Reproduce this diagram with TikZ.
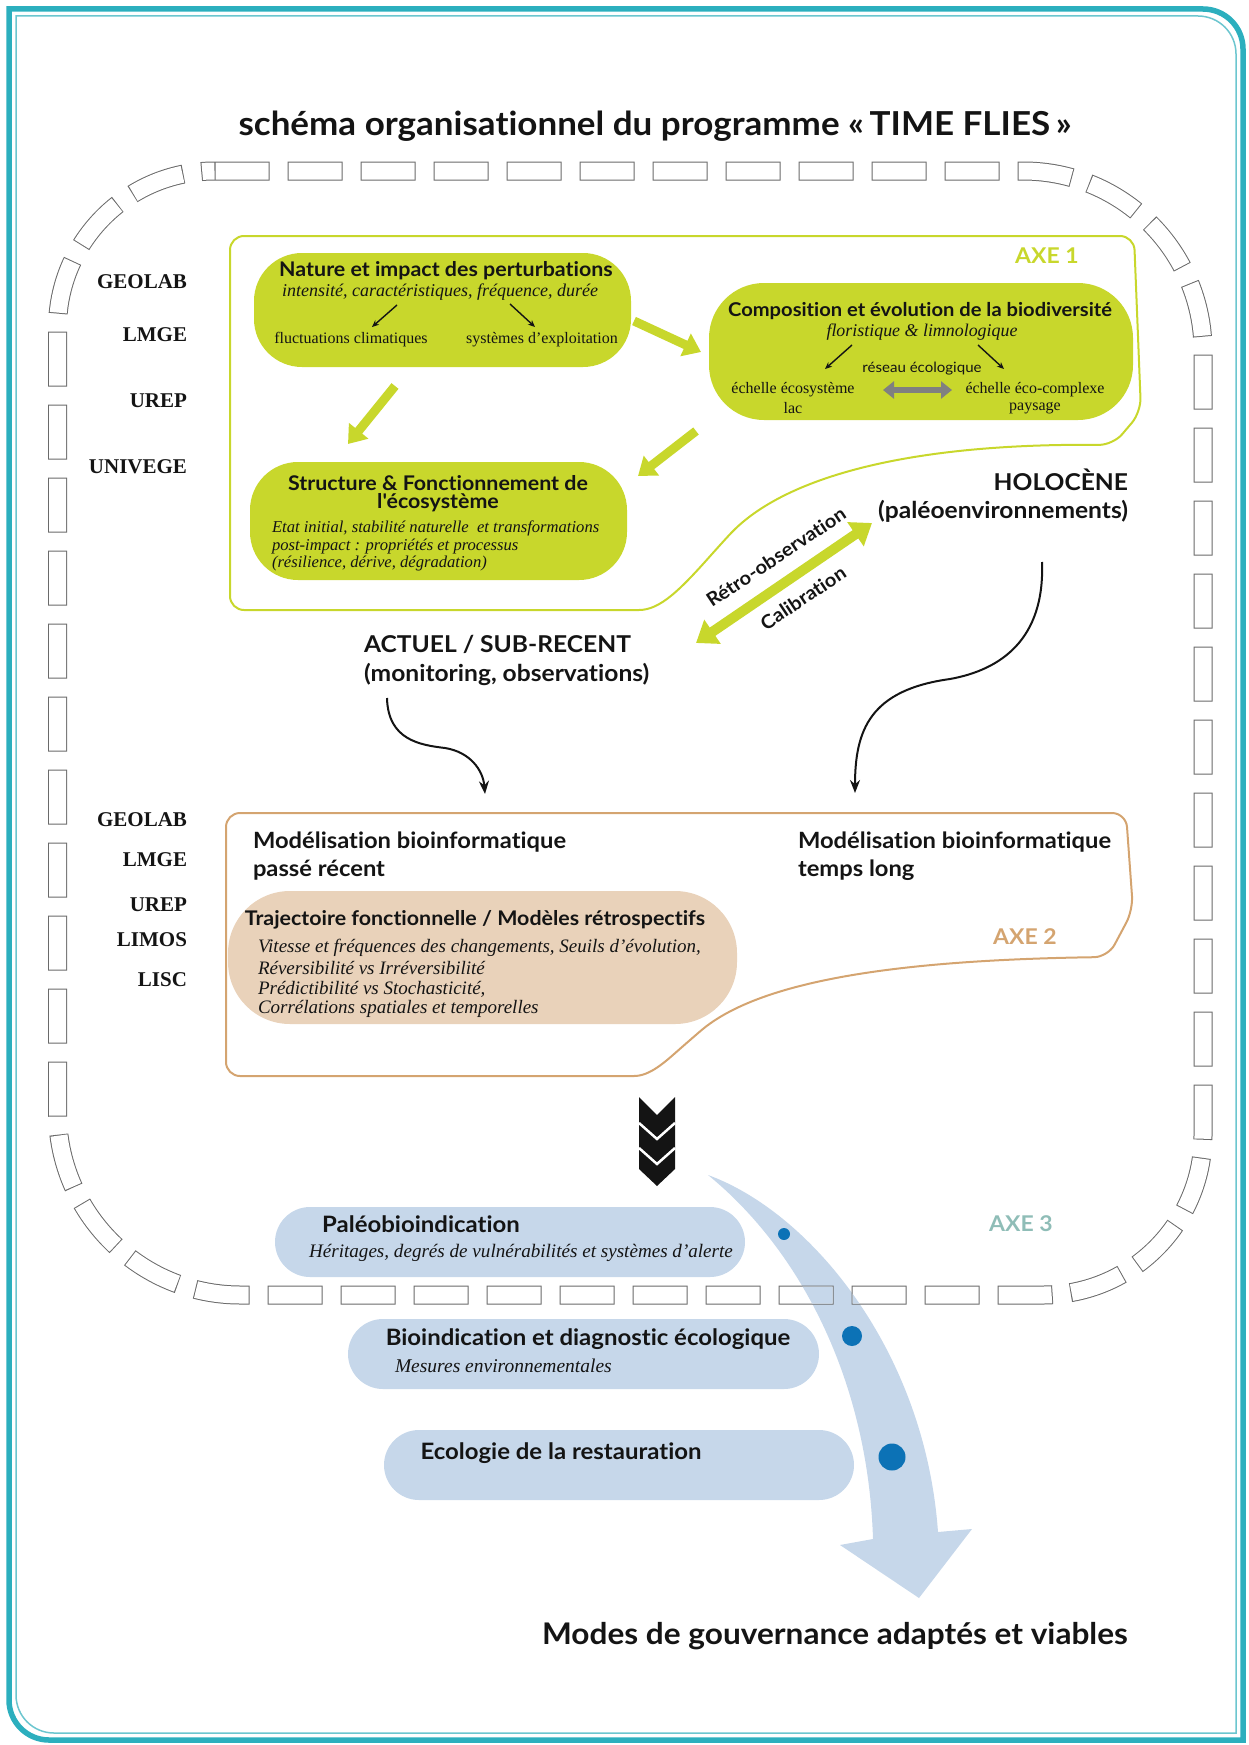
\documentclass[tikz,border=0pt]{standalone}
\usepackage{fontspec}
\setmainfont{Liberation Serif}
\newfontfamily\gill{Lato}[FakeStretch=1.06,Ligatures=NoCommon]
\usetikzlibrary{arrows.meta}
\newcommand{\myfs}[1]{\fontsize{#1}{#1}\selectfont}
\definecolor{ink}{HTML}{141414}
\definecolor{bordteal}{HTML}{2CAFBE}
\definecolor{bordlight}{HTML}{6CC6CF}
\definecolor{axeone}{HTML}{C8D72C}
\definecolor{axetwo}{HTML}{D4A470}
\definecolor{tanfill}{HTML}{E9D2BA}
\definecolor{bluefill}{HTML}{C6D7EA}
\definecolor{bluedot}{HTML}{0C72B6}
\definecolor{axethree}{HTML}{8FBDB7}
\definecolor{ringgray}{HTML}{6A6A6A}
\definecolor{grayarrow}{HTML}{808080}
\newcommand{\ringpath}{(214.5,171) -- (1023,171) arc[start angle=-90,end angle=0,radius=180] -- (1203,1135) arc[start angle=0,end angle=90,radius=160] -- (240.5,1295) arc[start angle=90,end angle=180,radius=183] -- (57.5,328) arc[start angle=180,end angle=270,radius=157] -- cycle}
\newcommand{\bluearrowpath}{(708,1175) .. controls (800,1250) and (868,1380) .. (873,1539) -- (840,1545) -- (919,1598) -- (972,1529) -- (938,1532) .. controls (925,1350) and (810,1212) .. (708,1175) -- cycle}
\begin{document}
\begin{tikzpicture}[x=1pt,y=-1pt,
  every node/.style={inner sep=0pt, outer sep=0pt, text=ink},
  labname/.style={anchor=east, font=\bfseries\myfs{21}},
  boxtitle/.style={font=\gill\bfseries\myfs{20.2}},
  subit/.style={font=\itshape\myfs{18}},
  plaintxt/.style={font=\myfs{16}},
  bigsans/.style={font=\gill\bfseries\myfs{23.2}},
  modtxt/.style={font=\gill\bfseries\myfs{22.4}, anchor=west},
  axelabel/.style={font=\gill\bfseries\myfs{21.7}},
  pilltitle/.style={font=\gill\bfseries\myfs{22.6}},
  greenarrow/.style={draw=axeone, line width=9pt, -{Triangle[width=24pt,length=17pt]}},
  smallarrow/.style={draw=ink, line width=1.4pt, -{Stealth[length=7pt,width=6pt]}},
  curvearrow/.style={draw=ink, line width=2pt, -{Stealth[length=13pt,width=10pt]}},
  greenpill/.style={fill=axeone, rounded corners=48pt},
  tanpill/.style={fill=tanfill, rounded corners=62pt},
  bluepill/.style={fill=bluefill, rounded corners=35pt},
]
\useasboundingbox (0,0) rectangle (1249,1745);
% frame
\draw[bordteal, line width=5.5pt] (9,9) -- (1203,9) arc[start angle=-90,end angle=0,radius=40] -- (1243,1740) -- (49,1740) arc[start angle=90,end angle=180,radius=40] -- cycle;
\draw[bordlight, line width=1.5pt] (16,16) -- (1198,16) arc[start angle=-90,end angle=0,radius=38] -- (1236,1733) -- (54,1733) arc[start angle=90,end angle=180,radius=38] -- cycle;

% title
\node[font=\gill\bfseries\myfs{33}] (title) at (655,126) {schéma organisationnel du programme «\,TIME FLIES\,»};

% blue arrow (under the ring)
\fill[bluefill] \bluearrowpath;

% dashed ring
\draw[ringgray, line width=19pt, dash pattern=on 55pt off 18pt] \ringpath;
\draw[white, line width=17pt, dash pattern=on 53pt off 20pt, dash phase=72pt] \ringpath;
\begin{scope}
  \clip \bluearrowpath;
  \draw[bluefill, line width=17pt, dash pattern=on 53pt off 20pt, dash phase=72pt] \ringpath;
\end{scope}

% lab names
\node[labname] (l1) at (187,282) {GEOLAB};
\node[labname] (l2) at (187,335) {LMGE};
\node[labname] (l3) at (187,401) {UREP};
\node[labname] (l4) at (187,467) {UNIVEGE};
\node[labname] (m1) at (187,820) {GEOLAB};
\node[labname] (m2) at (187,860) {LMGE};
\node[labname] (m3) at (187,905) {UREP};
\node[labname] (m4) at (187,940) {LIMOS};
\node[labname] (m5) at (187,980) {LISC};

% AXE 1 frame
\draw[axeone, line width=2pt, rounded corners=14pt] (1113,445) .. controls (900,443) and (780,480) .. (720,545) .. controls (680,590) and (660,610) .. (625,610) -- (230,610) -- (230,236) -- (1134,236) -- (1141,412) -- cycle;
\node[axelabel, text=axeone] (axe1) at (1047,256) {AXE 1};

% Nature box
\node[greenpill, minimum width=377pt, minimum height=114pt, anchor=north west] (nature) at (254,253) {};
\node[boxtitle] (natureT) at (446,271) {Nature et impact des perturbations};
\node[subit] (natureS) at (440,292) {intensité, caractéristiques, fréquence, durée};
\node[plaintxt] (fluct) at (351,340) {fluctuations climatiques};
\node[plaintxt] (syst) at (542,340) {systèmes d'exploitation};
\coordinate (na1) at (397,305); \coordinate (na1e) at (372,327);
\coordinate (na2) at (510,304); \coordinate (na2e) at (535,327);
\draw[smallarrow] (na1) -- (na1e);
\draw[smallarrow] (na2) -- (na2e);

% Composition box
\node[greenpill, rounded corners=55pt, minimum width=424pt, minimum height=137pt, anchor=north west] (compo) at (709,283) {};
\node[boxtitle, font=\gill\bfseries\myfs{19}] (compoT) at (920,311) {Composition et évolution de la biodiversité};
\node[subit, font=\itshape\myfs{17.9}] (compoS) at (922,332) {floristique \& limnologique};
\node[font=\gill\myfs{14.2}] (reseau) at (922,369) {réseau écologique};
\node[plaintxt] (ech1) at (793,390) {échelle écosystème};
\node[plaintxt] (lac) at (793,408) {lac};
\node[plaintxt] (ech2) at (1035,390) {échelle éco-complexe};
\node[plaintxt] (pays) at (1035,408) {paysage};
\coordinate (ca1) at (852,345); \coordinate (ca1e) at (825,369);
\coordinate (ca2) at (978,345); \coordinate (ca2e) at (1004,369);
\draw[smallarrow] (ca1) -- (ca1e);
\draw[smallarrow] (ca2) -- (ca2e);
\coordinate (gd1) at (883,390); \coordinate (gd2) at (952,390);
\draw[grayarrow, line width=6pt, {Triangle[width=17pt,length=11pt]}-{Triangle[width=17pt,length=11pt]}] (gd1) -- (gd2);

% Structure box
\node[greenpill, minimum width=377pt, minimum height=118pt, anchor=north west] (struct) at (250,462) {};
\node[boxtitle] (structT1) at (438,483) {Structure \& Fonctionnement de};
\node[boxtitle] (structT2) at (438,503) {l'écosystème};
\node[subit, font=\itshape\myfs{16.6}, anchor=west] (ss1) at (272,528) {Etat initial, stabilité naturelle\ \ et transformations};
\node[subit, font=\itshape\myfs{16.6}, anchor=west] (ss2) at (272,546) {post-impact : propriétés et processus};
\node[subit, font=\itshape\myfs{16.6}, anchor=west] (ss3) at (272,563) {(résilience, dérive, dégradation)};

% green arrows
\coordinate (g1s) at (634,321); \coordinate (g1e) at (701,352);
\coordinate (g2s) at (395,386); \coordinate (g2e) at (348,444);
\coordinate (g3s) at (696,431); \coordinate (g3e) at (638,476);
\draw[greenarrow] (g1s) -- (g1e);
\draw[greenarrow] (g2s) -- (g2e);
\draw[greenarrow] (g3s) -- (g3e);

% Holocene / Actuel
\node[bigsans, anchor=east] (holo) at (1128,480) {HOLOCÈNE};
\node[bigsans, anchor=east] (paleo) at (1128,511) {(paléoenvironnements)};
\node[bigsans, anchor=west] (actuel) at (364,644) {ACTUEL / SUB-RECENT};
\node[bigsans, anchor=west] (monit) at (364,674) {(monitoring, observations)};

% calibration arrow
\coordinate (ca) at (696,643); \coordinate (cb) at (872,523);
\draw[axeone, line width=10pt, {Triangle[width=28pt,length=20pt]}-{Triangle[width=28pt,length=20pt]}] (ca) -- (cb);
\node[font=\gill\bfseries\myfs{19}, rotate=33.7] (retro) at (776,557) {Rétro-observation};
\node[font=\gill\bfseries\myfs{19}, rotate=33.7] (calib) at (803,598) {Calibration};

% curved arrows
\coordinate (c1s) at (387,698); \coordinate (c1e) at (485,794);
\draw[curvearrow] (c1s) .. controls (388,740) and (420,745) .. (445,748) .. controls (470,752) and (483,770) .. (c1e);
\coordinate (c2s) at (1042,562); \coordinate (c2e) at (855,793);
\draw[curvearrow] (c2s) .. controls (1045,640) and (1000,670) .. (950,679) .. controls (870,690) and (855,730) .. (c2e);

% AXE 2 frame
\draw[axetwo, line width=2pt, rounded corners=14pt] (1108,957) .. controls (900,960) and (760,980) .. (690,1040) .. controls (665,1062) and (650,1076) .. (620,1076) -- (226,1076) -- (226,813) -- (1126,813) -- (1133,910) -- cycle;
\node[axelabel, text=axetwo] (axe2) at (1025,937) {AXE 2};
\node[modtxt] (mod1) at (253,842) {Modélisation bioinformatique};
\node[modtxt] (mod1b) at (253,870) {passé récent};
\node[modtxt] (mod2) at (798,842) {Modélisation bioinformatique};
\node[modtxt] (mod2b) at (798,870) {temps long};

% Trajectoire pill
\node[tanpill, minimum width=509pt, minimum height=133pt, anchor=north west] (traj) at (228,891) {};
\node[boxtitle] (trajT) at (475,920) {Trajectoire fonctionnelle / Modèles rétrospectifs};
\node[subit, font=\itshape\myfs{19}, anchor=west] (t1) at (258,948) {Vitesse et fréquences des changements, Seuils d'évolution,};
\node[subit, font=\itshape\myfs{19}, anchor=west] (t2) at (258,968) {Réversibilité vs Irréversibilité};
\node[subit, font=\itshape\myfs{19}, anchor=west] (t3) at (258,989) {Prédictibilité vs Stochasticité,};
\node[subit, font=\itshape\myfs{19}, anchor=west] (t4) at (258,1009) {Corrélations spatiales et temporelles};

% chevrons
\fill[ink] (639,1097) -- (657,1115) -- (675,1097) -- (675,1169) -- (657,1186) -- (639,1169) -- cycle;
\draw[white, line width=2.5pt] (639,1123) -- (657,1139) -- (675,1123);
\draw[white, line width=2.5pt] (639,1148) -- (657,1164) -- (675,1148);

% blue dots
\fill[bluedot] (784,1234) circle[radius=6];
\fill[bluedot] (852,1336) circle[radius=10];
\fill[bluedot] (892,1457) circle[radius=13.5];

% AXE 3 pills
\node[bluepill, minimum width=470pt, minimum height=70pt, anchor=north west] (paleopill) at (275,1207) {};
\node[pilltitle] (paleoT) at (421,1224) {Paléobioindication};
\node[subit, font=\itshape\myfs{19.1}] (paleoS) at (521,1253) {Héritages, degrés de vulnérabilités et systèmes d'alerte};
\node[bluepill, minimum width=471pt, minimum height=70pt, anchor=north west] (biopill) at (348,1319) {};
\node[pilltitle] (bioT) at (588,1339) {Bioindication et diagnostic écologique};
\node[subit, font=\itshape\myfs{19.5}, anchor=west] (bioS) at (395,1366) {Mesures environnementales};
\node[bluepill, minimum width=470pt, minimum height=70pt, anchor=north west] (ecolpill) at (384,1430) {};
\node[pilltitle] (ecolT) at (561,1453) {Ecologie de la restauration};
\node[axelabel, text=axethree] (axe3) at (1021,1224) {AXE 3};

% final
\node[font=\gill\bfseries\myfs{29.8}] (gouv) at (835,1636) {Modes de gouvernance adaptés et viables};
\end{tikzpicture}
\end{document}
